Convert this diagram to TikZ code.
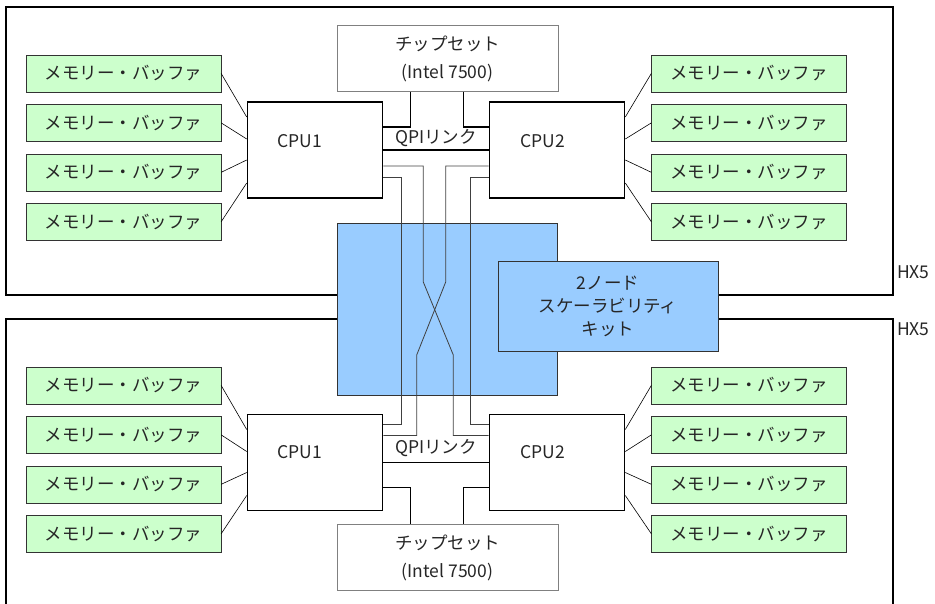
\documentclass[tikz,border=0pt]{standalone}
\usepackage{fontspec}
\setmainfont{Noto Sans CJK JP}
\usetikzlibrary{positioning}
\definecolor{bufgreen}{HTML}{CCFFCC}
\definecolor{kitblue}{HTML}{99CCFF}

\begin{document}
\begin{tikzpicture}[
    x=1pt, y=-1pt,
    node distance=12pt,
    font=\fontsize{17.5}{21}\selectfont,
    text=black!85,
    hxframe/.style={rectangle, draw, line width=1.6pt, inner sep=0pt},
    membuf/.style={rectangle, draw=black!80, fill=bufgreen, minimum width=195pt, minimum height=37pt, inner sep=0pt},
    cpu/.style={rectangle, draw, fill=white, line width=1.6pt, minimum width=135pt, minimum height=96pt},
    chipset/.style={rectangle, draw=black!50, fill=white, minimum width=221pt, minimum height=66pt, align=center, font=\fontsize{17.5}{28}\selectfont},
    kit/.style={rectangle, draw=black!80, fill=kitblue, line width=0.9pt, align=center, font=\fontsize{17.5}{23}\selectfont},
    bus/.style={line width=1.6pt},
    wire/.style={draw=black!75, line width=0.8pt},
    memlink/.style={line width=0.6pt}
]
    \useasboundingbox (0,0) rectangle (935,603);
    \clip (0,0) rectangle (935,603);

    % HX5 frames
    \node [hxframe, minimum width=887pt, minimum height=288pt] (hxA) at (449.5,151) {};
    \node [hxframe, minimum width=887pt, minimum height=301pt] (hxB) at (449.5,469.5) {};
    \node [anchor=west, inner sep=0pt] (hxlabA) at ([xshift=3pt,yshift=24pt]hxA.south east) {HX5};
    \node [anchor=west, inner sep=0pt] (hxlabB) at ([xshift=3pt,yshift=-11pt]hxB.north east) {HX5};

    % Scalability kit
    \node [kit, minimum width=220pt, minimum height=172pt] (link) at (447,309) {};
    \node [kit, minimum width=220pt, minimum height=90pt] (kit) at (608,306) {2ノード\\スケーラビリティ\\キット};

    % Chipsets
    \node [chipset] (chipA) at (447.5,58.5) {チップセット\\(Intel 7500)};
    \node [chipset] (chipB) at (447.5,557.5) {チップセット\\(Intel 7500)};

    % CPUs
    \node [cpu, label={[xshift=-15pt,yshift=9pt]center:CPU1}] (cpuA1) at (315,150) {};
    \node [cpu, label={[xshift=-14pt,yshift=9pt]center:CPU2}] (cpuA2) at (557,150) {};
    \node [cpu, label={[xshift=-15pt,yshift=10pt]center:CPU1}] (cpuB1) at (315,462.5) {};
    \node [cpu, label={[xshift=-14pt,yshift=10pt]center:CPU2}] (cpuB2) at (557,462.5) {};

    % Memory buffers
    \node [membuf] (memAL1) at (123.5,73.5) {メモリー・バッファ};
    \node [membuf, below=of memAL1] (memAL2) {メモリー・バッファ};
    \node [membuf, below=of memAL2] (memAL3) {メモリー・バッファ};
    \node [membuf, below=of memAL3] (memAL4) {メモリー・バッファ};
    \node [membuf] (memAR1) at (749,73.5) {メモリー・バッファ};
    \node [membuf, below=of memAR1] (memAR2) {メモリー・バッファ};
    \node [membuf, below=of memAR2] (memAR3) {メモリー・バッファ};
    \node [membuf, below=of memAR3] (memAR4) {メモリー・バッファ};
    \node [membuf] (memBL1) at (123.5,385.5) {メモリー・バッファ};
    \node [membuf, below=of memBL1] (memBL2) {メモリー・バッファ};
    \node [membuf, below=of memBL2] (memBL3) {メモリー・バッファ};
    \node [membuf, below=of memBL3] (memBL4) {メモリー・バッファ};
    \node [membuf] (memBR1) at (749,385.5) {メモリー・バッファ};
    \node [membuf, below=of memBR1] (memBR2) {メモリー・バッファ};
    \node [membuf, below=of memBR2] (memBR3) {メモリー・バッファ};
    \node [membuf, below=of memBR3] (memBR4) {メモリー・バッファ};

    % Memory links
    \draw [memlink] (memAL1.east) -- ([yshift=33pt]cpuA1.west);
    \draw [memlink] (memAL2.east) -- ([yshift=11pt]cpuA1.west);
    \draw [memlink] (memAL3.east) -- ([yshift=-10pt]cpuA1.west);
    \draw [memlink] (memAL4.east) -- ([yshift=-33pt]cpuA1.west);
    \draw [memlink] (memAR1.west) -- ([yshift=33pt]cpuA2.east);
    \draw [memlink] (memAR2.west) -- ([yshift=11pt]cpuA2.east);
    \draw [memlink] (memAR3.west) -- ([yshift=-10pt]cpuA2.east);
    \draw [memlink] (memAR4.west) -- ([yshift=-33pt]cpuA2.east);
    \draw [memlink] (memBL1.east) -- ([yshift=33pt]cpuB1.west);
    \draw [memlink] (memBL2.east) -- ([yshift=11pt]cpuB1.west);
    \draw [memlink] (memBL3.east) -- ([yshift=-10pt]cpuB1.west);
    \draw [memlink] (memBL4.east) -- ([yshift=-33pt]cpuB1.west);
    \draw [memlink] (memBR1.west) -- ([yshift=33pt]cpuB2.east);
    \draw [memlink] (memBR2.west) -- ([yshift=11pt]cpuB2.east);
    \draw [memlink] (memBR3.west) -- ([yshift=-10pt]cpuB2.east);
    \draw [memlink] (memBR4.west) -- ([yshift=-33pt]cpuB2.east);

    % QPI links and chipset buses
    \draw [bus] (cpuA1.east) -- node [above, yshift=-1pt] (qpiA) {QPIリンク} (cpuA2.west);
    \draw [bus] (cpuB1.east) -- node [above, yshift=2pt] (qpiB) {QPIリンク} (cpuB2.west);
    \draw [bus] ([xshift=-37pt]chipA.south) |- ([yshift=23pt]cpuA1.east);
    \draw [bus] ([xshift=16pt]chipA.south) |- ([yshift=23pt]cpuA2.west);
    \draw [bus] ([yshift=-25pt]cpuB1.east) -| ([xshift=-37pt]chipB.north);
    \draw [bus] ([yshift=-25pt]cpuB2.west) -| ([xshift=16pt]chipB.north);

    % Cross wires between the two nodes
    \draw [wire] ([yshift=-27pt]cpuA1.east) -- ++(18,0) |- ([yshift=38pt]cpuB1.east);
    \draw [wire] ([yshift=-16pt]cpuA1.east) -- ++(40,0) -- ++(0,116) -- ++(30,73) |- ([yshift=27pt]cpuB2.west);
    \draw [wire] ([yshift=-16pt]cpuA2.west) -- ++(-43,0) -- ++(0,116) -- ++(-29,73) |- ([yshift=27pt]cpuB1.east);
    \draw [wire] ([yshift=-27pt]cpuA2.west) -- ++(-18,0) |- ([yshift=38pt]cpuB2.west);
\end{tikzpicture}
\end{document}
